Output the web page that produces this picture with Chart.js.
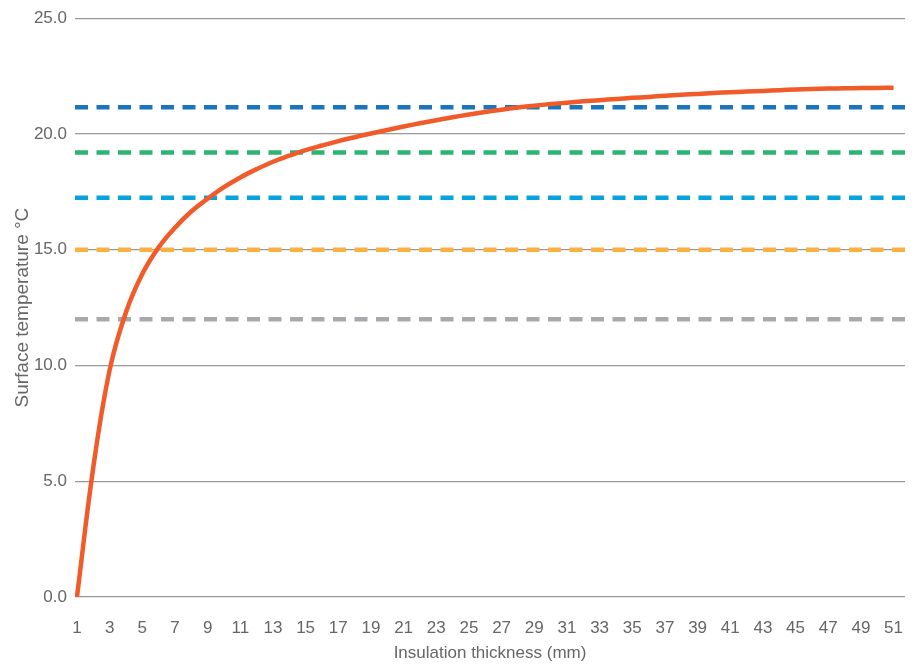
<!DOCTYPE html>
<html>
<head>
<meta charset="utf-8">
<title>Surface temperature</title>
<script src="https://cdn.jsdelivr.net/npm/chart.js@4.4.1/dist/chart.umd.min.js"></script>
<style>
  html, body { margin: 0; padding: 0; background: #fff; }
  #wrap { width: 919px; height: 665px; }
</style>
</head>
<body>
<div id="wrap"><canvas id="myChart"></canvas></div>
<script>
// Insulation thickness (mm)
const thickness = [];
for (let t = 1; t <= 51; t++) thickness.push(t);

// Surface temperature (°C)
const surfaceTemp = [
  0.0, 5.6, 9.8, 12.3, 13.95, 15.1, 15.95, 16.65, 17.2, 17.7,
  18.12, 18.48, 18.8, 19.06, 19.3, 19.5, 19.69, 19.86, 20.02, 20.17,
  20.32, 20.46, 20.59, 20.72, 20.84, 20.95, 21.05, 21.14, 21.22, 21.29,
  21.35, 21.41, 21.46, 21.51, 21.56, 21.6, 21.65, 21.69, 21.73, 21.77,
  21.8, 21.83, 21.86, 21.89, 21.92, 21.94, 21.96, 21.97, 21.98, 21.99,
  22.0
];

// Reference levels, dashed
const refLevels = [21.15, 19.2, 17.25, 15.0, 12.0];
const refColors = ['#1b75bb', '#2bb571', '#06a3df', '#fbb040', '#a7a9ac'];

const xTicks = thickness.filter(t => t % 2 === 1);
const yTicks = [0, 5, 10, 15, 20, 25];

const X_MIN = 0.88;
const X_MAX = 51.7;

const textColor = '#666666';
const fontFamily = "'Liberation Sans Narrow', 'Liberation Sans', Arial, sans-serif";

const datasets = [{
  label: 'Surface temperature',
  data: thickness.map((t, i) => ({ x: t, y: surfaceTemp[i] })),
  borderColor: '#f15a29',
  borderWidth: 4.5,
  pointRadius: 0,
  tension: 0.4,
  order: 0
}];

refLevels.forEach((v, i) => {
  datasets.push({
    label: 'Level ' + v,
    data: [{ x: X_MIN, y: v }, { x: X_MAX, y: v }],
    borderColor: refColors[i],
    borderWidth: 4.5,
    borderDash: [13, 8.5],
    borderCapStyle: 'butt',
    pointRadius: 0,
    order: 1
  });
});

new Chart(document.getElementById('myChart'), {
  type: 'line',
  data: { datasets },
  options: {
    responsive: true,
    maintainAspectRatio: false,
    animation: false,
    layout: { padding: { top: 18, right: 14, left: 0, bottom: 0 } },
    plugins: {
      legend: { display: false },
      tooltip: { enabled: false }
    },
    scales: {
      x: {
        type: 'linear',
        min: X_MIN,
        max: X_MAX,
        afterBuildTicks: (axis) => { axis.ticks = xTicks.map(v => ({ value: v })); },
        afterFit: (axis) => { axis.height = 68; },
        grid: { display: false },
        border: { display: false },
        ticks: {
          color: textColor,
          font: { family: fontFamily, size: 17 },
          padding: 13,
          maxRotation: 0,
          autoSkip: false
        },
        title: {
          display: true,
          text: 'Insulation thickness (mm)',
          color: textColor,
          font: { family: fontFamily, size: 17 },
          padding: { top: 0, bottom: 1 }
        }
      },
      y: {
        min: 0,
        max: 25,
        afterBuildTicks: (axis) => { axis.ticks = yTicks.map(v => ({ value: v })); },
        afterFit: (axis) => { axis.width = 75; },
        grid: { color: '#999999', lineWidth: 1.3, drawTicks: false },
        border: { display: false },
        ticks: {
          color: textColor,
          font: { family: fontFamily, size: 17 },
          padding: 8,
          callback: (v) => Number(v).toFixed(1)
        },
        title: {
          display: true,
          text: 'Surface temperature °C',
          color: textColor,
          font: { family: fontFamily, size: 19 },
          padding: { top: 11, bottom: 0 }
        }
      }
    }
  }
});
</script>
</body>
</html>
